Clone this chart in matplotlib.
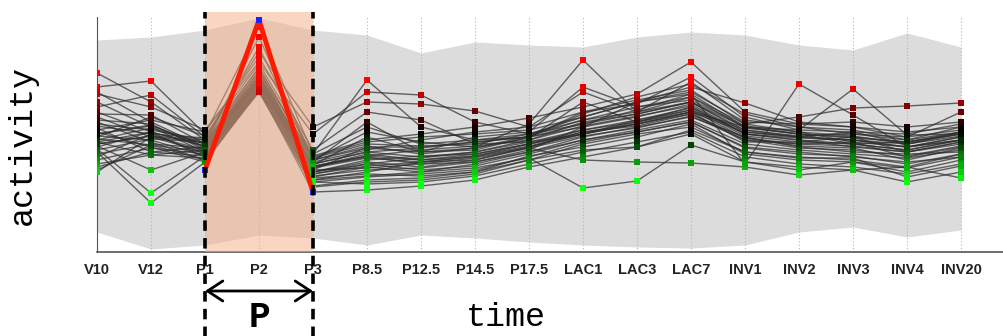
import numpy as np
import matplotlib
matplotlib.use('Agg')
import matplotlib.pyplot as plt
from matplotlib.colors import LinearSegmentedColormap, Normalize

times = ['V10', 'V12', 'P1', 'P2', 'P3', 'P8.5', 'P12.5', 'P14.5', 'P17.5',
         'LAC1', 'LAC3', 'LAC7', 'INV1', 'INV2', 'INV3', 'INV4', 'INV20']

# grey envelope (upper / lower bound of all genes)
band_hi = [212, 215, 222, 234, 222, 217, 199, 210, 207, 205, 215, 220, 217, 207, 202, 219, 205]
band_lo = [20, 3, 7, 17, 14, 7, 17, 14, 10, 7, 5, 4, 7, 20, 25, 15, 22]

# cluster pattern (highlighted)
pattern = [82, 232, 60]

profiles = [
    [179, 150, 112, 205, 92, 120, 110, 105, 128, 192, 140, 150, 125, 118, 115, 110, 118],
    [165, 171, 118, 225, 98, 172, 125, 112, 115, 140, 148, 175, 135, 122, 120, 108, 120],
    [160, 130, 105, 180, 85, 98, 92, 96, 108, 122, 130, 145, 118, 112, 105, 100, 110],
    [158, 145, 122, 190, 118, 160, 157, 130, 118, 135, 150, 165, 149, 130, 125, 120, 125],
    [150, 125, 100, 175, 80, 90, 85, 92, 105, 118, 128, 138, 112, 108, 110, 95, 105],
    [145, 157, 115, 200, 125, 150, 148, 141, 125, 160, 140, 170, 132, 125, 118, 115, 140],
    [140, 120, 95, 170, 75, 85, 80, 88, 100, 115, 125, 135, 115, 105, 100, 98, 100],
    [138, 137, 108, 185, 90, 130, 100, 115, 120, 165, 145, 155, 128, 135, 144, 146, 149],
    [135, 115, 110, 168, 88, 100, 95, 100, 112, 130, 138, 150, 120, 115, 112, 105, 115],
    [132, 128, 102, 178, 82, 105, 105, 110, 115, 128, 142, 158, 125, 118, 108, 102, 112],
    [130, 110, 92, 165, 70, 75, 78, 82, 95, 110, 120, 130, 105, 100, 95, 90, 95],
    [128, 122, 112, 172, 95, 110, 115, 118, 122, 135, 150, 160, 130, 128, 130, 125, 130],
    [126, 118, 98, 163, 72, 80, 90, 95, 105, 120, 128, 140, 110, 110, 115, 100, 108],
    [124, 100, 105, 182, 85, 95, 88, 90, 102, 125, 135, 148, 118, 112, 108, 110, 120],
    [122, 132, 120, 195, 102, 140, 132, 108, 110, 118, 132, 142, 122, 115, 120, 118, 128],
    [120, 105, 90, 162, 65, 70, 72, 78, 92, 108, 118, 125, 100, 95, 92, 85, 98],
    [118, 127, 104, 174, 87, 115, 100, 102, 115, 138, 155, 168, 138, 125, 122, 112, 125],
    [116, 112, 96, 166, 78, 88, 82, 86, 98, 112, 122, 132, 108, 102, 98, 94, 102],
    [115, 135, 116, 188, 98, 125, 108, 112, 118, 132, 145, 152, 126, 120, 116, 108, 118],
    [113, 107, 100, 170, 80, 92, 96, 98, 108, 120, 126, 138, 114, 106, 104, 92, 104],
    [112, 124, 108, 176, 90, 102, 112, 120, 125, 140, 152, 162, 128, 120, 110, 105, 112],
    [110, 97, 94, 164, 74, 78, 76, 80, 96, 105, 115, 128, 98, 92, 90, 80, 92],
    [108, 116, 112, 180, 96, 112, 118, 125, 134, 145, 158, 190, 140, 128, 125, 115, 122],
    [106, 82, 100, 168, 82, 84, 88, 94, 104, 116, 124, 136, 112, 104, 102, 96, 106],
    [105, 120, 106, 172, 86, 96, 102, 106, 112, 126, 136, 146, 118, 114, 112, 108, 116],
    [103, 59, 96, 160, 70, 68, 70, 76, 88, 100, 110, 120, 95, 88, 85, 78, 88],
    [102, 113, 110, 176, 92, 106, 98, 104, 116, 132, 140, 155, 124, 118, 114, 110, 118],
    [100, 49, 90, 162, 60, 62, 66, 72, 85, 95, 105, 118, 90, 85, 82, 70, 80],
    [98, 108, 104, 170, 84, 94, 90, 96, 106, 118, 130, 142, 114, 108, 106, 100, 110],
    [95, 118, 114, 184, 94, 108, 106, 108, 118, 128, 138, 150, 122, 116, 118, 112, 120],
    [92, 104, 98, 166, 76, 82, 84, 90, 100, 112, 120, 130, 104, 98, 96, 88, 98],
    [88, 97, 102, 172, 80, 88, 94, 100, 110, 122, 132, 144, 116, 110, 108, 102, 112],
    [85, 100, 96, 164, 72, 76, 80, 84, 94, 64, 71, 107, 90, 82, 90, 84, 95],
    [82, 107, 92, 160, 66, 72, 74, 80, 92, 102, 105, 122, 100, 94, 94, 75, 86],
    [80, 115, 100, 168, 78, 86, 90, 92, 104, 92, 90, 89, 85, 77, 82, 85, 74],
    [110, 120, 106, 174, 88, 100, 104, 110, 115, 125, 150, 158, 88, 168, 137, 105, 115],
    [108, 116, 102, 170, 85, 96, 92, 98, 108, 118, 128, 140, 125, 122, 163, 117, 118],
    [118, 126, 108, 215, 92, 104, 100, 104, 114, 150, 130, 140, 120, 115, 112, 105, 112],
]

x = np.arange(len(times))
data = np.array(profiles)

fig = plt.figure(figsize=(10.04, 3.36), dpi=100)
ax = fig.add_axes([97 / 1004, 84 / 336, 907 / 1004, 240 / 336])
ax.set_xlim(0, 907 / 54)
ax.set_ylim(0, 240)

ax.fill_between(x, band_lo, band_hi, color='#dcdcdc', lw=0, zorder=1)
ax.vlines(x, 0, 235, colors='#b4b4b4', linestyles=(0, (1, 2)), lw=0.8, zorder=1.5)

for row in data:
    ax.plot(x, row, color='#2e2e2e', lw=1.0, alpha=0.72, zorder=2)

ax.axvspan(2, 4, color=(245 / 255, 175 / 255, 135 / 255), alpha=0.5, lw=0, zorder=3)

cmap = LinearSegmentedColormap.from_list('gkr', ['#10ff10', '#000000', '#ff0000'])
norm = Normalize(70, 170)
xx = np.tile(x, len(data))
ax.scatter(xx, data.ravel(), c=data.ravel(), cmap=cmap, norm=norm, marker='s',
           s=14, linewidths=0, zorder=4)

ax.plot([2, 3, 4], pattern, color='#ff1a00', lw=3.5, zorder=5, solid_capstyle='round')
ax.scatter([2, 3, 4], pattern, color='#2020ff', marker='s', s=16, linewidths=0, zorder=5.5)

ax.vlines([2, 4], -90, 240, colors='black', linestyles=(0, (2.9, 2.0)), lw=2.6,
          clip_on=False, zorder=6)

ax.annotate('', xy=(2, -39), xytext=(4, -39),
            arrowprops=dict(arrowstyle='<->,head_length=0.55,head_width=0.36', lw=2,
                            color='black', mutation_scale=20, shrinkA=0, shrinkB=0),
            annotation_clip=False)

for s in ['top', 'right']:
    ax.spines[s].set_visible(False)
ax.spines['left'].set_bounds(0, 235)
ax.spines['left'].set_color('#555555')
ax.spines['bottom'].set_color('#555555')
ax.spines['bottom'].set_linewidth(1.2)

ax.set_xticks(x)
ax.set_xticklabels(times, fontfamily='Liberation Sans', fontweight='bold', fontsize=10.5,
                   color='#222222')
ax.tick_params(axis='x', length=0, pad=8)
ax.set_yticks([])

fig.text(22 / 1004, 1 - 145 / 336, 'activity', rotation=90, ha='center', va='center',
         fontfamily='Liberation Mono', fontsize=24)
fig.text(506 / 1004, 1 - 318 / 336, 'time', ha='center', va='center',
         fontfamily='Liberation Mono', fontsize=24)
fig.text(259 / 1004, 1 - 335 / 336, 'P', ha='center', va='bottom',
         fontfamily='Liberation Mono', fontweight='bold', fontsize=26)

fig.savefig('out.png', dpi=100)
